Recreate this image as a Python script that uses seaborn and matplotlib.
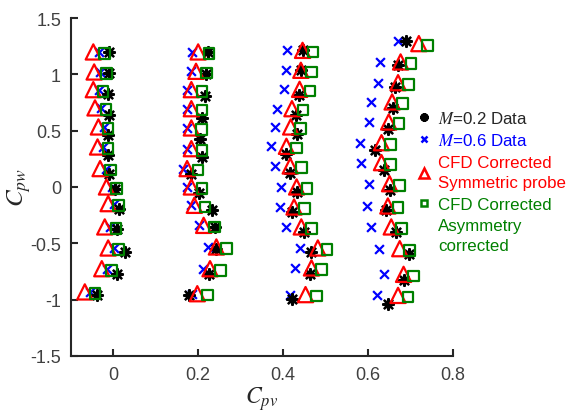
import numpy as np
import pandas as pd
import matplotlib
matplotlib.use("Agg")
import matplotlib.pyplot as plt
from matplotlib.lines import Line2D
import seaborn as sns

sns.set_style("ticks")
plt.rcParams["font.family"] = ["Arial", "Liberation Sans", "DejaVu Sans"]
plt.rcParams["mathtext.fontset"] = "stix"

# four probe positions, 13 rows each
# M = 0.2 data (black asterisk)
m02_x = [-0.009, -0.009, -0.013, -0.009, -0.012, -0.013, -0.010, 0.004, 0.014, 0.009, 0.028, 0.009, -0.038,
         0.224, 0.218, 0.216, 0.209, 0.204, 0.208, 0.184, 0.202, 0.232, 0.239, 0.243, 0.226, 0.179,
         0.446, 0.442, 0.438, 0.430, 0.434, 0.406, 0.417, 0.432, 0.422, 0.449, 0.465, 0.463, 0.421,
         0.690, 0.671, 0.663, 0.659, 0.647, 0.617, 0.637, 0.651, 0.643, 0.667, 0.696, 0.684, 0.647]
m02_y = [1.199, 1.015, 0.829, 0.636, 0.458, 0.281, 0.118, -0.015, -0.193, -0.370, -0.574, -0.769, -0.956,
         1.199, 1.006, 0.808, 0.613, 0.429, 0.266, 0.118, -0.051, -0.208, -0.355, -0.548, -0.770, -0.963,
         1.213, 1.036, 0.813, 0.636, 0.473, 0.296, 0.124, -0.044, -0.222, -0.400, -0.577, -0.770, -0.992,
         1.293, 1.086, 0.891, 0.702, 0.518, 0.325, 0.147, -0.030, -0.208, -0.400, -0.592, -0.829, -1.036]

# M = 0.6 data (blue x)
m06_x = [-0.034, -0.032, -0.034, -0.030, -0.022, -0.024, -0.018, -0.003, 0.001, -0.007, 0.001, -0.014, -0.054,
         0.186, 0.183, 0.173, 0.174, 0.173, 0.174, 0.165, 0.174, 0.184, 0.202, 0.224, 0.212, 0.186,
         0.410, 0.406, 0.402, 0.386, 0.382, 0.371, 0.382, 0.396, 0.392, 0.406, 0.441, 0.429, 0.416,
         0.671, 0.629, 0.624, 0.608, 0.602, 0.582, 0.583, 0.602, 0.599, 0.608, 0.626, 0.637, 0.622]
m06_y = [1.199, 1.021, 0.864, 0.702, 0.533, 0.355, 0.163, 0.000, -0.148, -0.355, -0.542, -0.726, -0.932,
         1.199, 1.027, 0.864, 0.695, 0.524, 0.340, 0.163, 0.000, -0.163, -0.341, -0.533, -0.726, -0.948,
         1.213, 1.036, 0.867, 0.695, 0.533, 0.361, 0.186, 0.000, -0.178, -0.355, -0.542, -0.719, -0.956,
         1.293, 1.110, 0.926, 0.755, 0.577, 0.393, 0.216, 0.029, -0.169, -0.355, -0.548, -0.776, -0.963]

# CFD corrected, symmetric probe (red triangle)
sym_x = [-0.047, -0.045, -0.047, -0.043, -0.035, -0.037, -0.031, -0.016, -0.012, -0.020, -0.012, -0.027, -0.067,
         0.200, 0.195, 0.184, 0.184, 0.184, 0.184, 0.174, 0.184, 0.191, 0.213, 0.243, 0.228, 0.198,
         0.446, 0.442, 0.439, 0.421, 0.418, 0.408, 0.417, 0.432, 0.426, 0.443, 0.482, 0.467, 0.453,
         0.720, 0.677, 0.671, 0.657, 0.649, 0.632, 0.632, 0.651, 0.647, 0.655, 0.675, 0.684, 0.671]
sym_y = [1.199, 1.021, 0.864, 0.702, 0.533, 0.355, 0.163, 0.000, -0.148, -0.355, -0.542, -0.726, -0.932,
         1.199, 1.027, 0.864, 0.695, 0.524, 0.340, 0.163, 0.000, -0.163, -0.341, -0.533, -0.726, -0.948,
         1.213, 1.036, 0.867, 0.695, 0.533, 0.361, 0.186, 0.000, -0.178, -0.355, -0.542, -0.719, -0.956,
         1.273, 1.110, 0.926, 0.755, 0.577, 0.393, 0.216, 0.029, -0.169, -0.355, -0.548, -0.776, -0.963]

# CFD corrected, asymmetry corrected (green square)
asym_x = [-0.021, -0.016, -0.024, -0.017, -0.012, -0.012, -0.006, 0.008, 0.012, 0.006, 0.012, -0.004, -0.043,
          0.226, 0.220, 0.209, 0.209, 0.208, 0.209, 0.200, 0.209, 0.216, 0.239, 0.267, 0.253, 0.222,
          0.471, 0.467, 0.464, 0.447, 0.441, 0.432, 0.443, 0.456, 0.451, 0.467, 0.504, 0.490, 0.479,
          0.741, 0.702, 0.696, 0.681, 0.673, 0.653, 0.653, 0.674, 0.671, 0.679, 0.698, 0.708, 0.694]
asym_y = [1.185, 1.005, 0.850, 0.690, 0.520, 0.340, 0.150, -0.015, -0.165, -0.370, -0.555, -0.740, -0.945,
          1.185, 1.012, 0.850, 0.682, 0.510, 0.325, 0.150, -0.015, -0.178, -0.355, -0.548, -0.740, -0.960,
          1.198, 1.022, 0.852, 0.682, 0.520, 0.347, 0.172, -0.015, -0.192, -0.370, -0.556, -0.733, -0.970,
          1.255, 1.095, 0.910, 0.740, 0.562, 0.378, 0.200, 0.014, -0.185, -0.370, -0.562, -0.790, -0.978]

df = pd.concat([
    pd.DataFrame({"Cpv": m02_x, "Cpw": m02_y, "set": "m02"}),
    pd.DataFrame({"Cpv": m06_x, "Cpw": m06_y, "set": "m06"}),
    pd.DataFrame({"Cpv": sym_x, "Cpw": sym_y, "set": "sym"}),
    pd.DataFrame({"Cpv": asym_x, "Cpw": asym_y, "set": "asym"}),
])

fig = plt.figure(figsize=(5.71, 4.14), dpi=100)
ax = fig.add_axes([0.124, 0.138, 0.669, 0.816])

star = (8, 2, 0)
sns.scatterplot(data=df[df["set"] == "m06"], x="Cpv", y="Cpw", ax=ax, marker="x",
                color="#0000ff", s=40, linewidth=1.6)
sns.scatterplot(data=df[df["set"] == "m02"], x="Cpv", y="Cpw", ax=ax, marker=star,
                color="black", s=60, linewidth=1.7)
sns.scatterplot(data=df[df["set"] == "sym"], x="Cpv", y="Cpw", ax=ax, marker="^",
                facecolor="none", edgecolor="#ff0000", s=120, linewidth=1.6)
sns.scatterplot(data=df[df["set"] == "asym"], x="Cpv", y="Cpw", ax=ax, marker="s",
                facecolor="none", edgecolor="#008000", s=58, linewidth=1.6)

ax.set_xlim(-0.1, 0.8)
ax.set_ylim(-1.5, 1.5)
ax.set_xticks([0, 0.2, 0.4, 0.6, 0.8])
ax.set_xticklabels(["0", "0.2", "0.4", "0.6", "0.8"])
ax.set_yticks([-1.5, -1, -0.5, 0, 0.5, 1, 1.5])
ax.set_yticklabels(["-1.5", "-1", "-0.5", "0", "0.5", "1", "1.5"])
ax.tick_params(direction="in", length=5, width=1.5, color="#262626",
               labelsize=13, labelcolor="#404040", pad=7)
for side in ["left", "bottom"]:
    ax.spines[side].set_linewidth(1.5)
    ax.spines[side].set_color("#262626")
sns.despine(ax=ax)
ax.set_xlabel("$C_{pv}$", fontsize=17, labelpad=1)
ax.set_ylabel("$C_{pw}$", fontsize=18)
ax.yaxis.set_label_coords(-0.10, 0.5)

handles = [
    Line2D([], [], ls="none", marker=star, color="black", ms=6, mew=2),
    Line2D([], [], ls="none", marker="x", color="#0000ff", ms=5, mew=1.8),
    Line2D([], [], ls="none", marker="^", mfc="none", mec="#ff0000", ms=7, mew=1.8),
    Line2D([], [], ls="none", marker="s", mfc="none", mec="#008000", ms=5, mew=1.8),
    Line2D([], [], ls="none", marker="none"),
]
labels = ["$M$=0.2 Data", "$M$=0.6 Data", "CFD Corrected\nSymmetric probe",
          "CFD Corrected", "Asymmetry\ncorrected"]
leg = fig.legend(handles, labels, loc="upper left", bbox_to_anchor=(0.73, 0.733),
                 frameon=False, fontsize=12.2, handlelength=0.8, handletextpad=0.45,
                 labelspacing=0.4, borderpad=0, borderaxespad=0,
                 labelcolor=["#262626", "#0000ff", "#ff0000", "#008000", "#008000"])
for t in leg.get_texts():
    t.set_linespacing(1.4)

fig.savefig("out.png", dpi=100)
